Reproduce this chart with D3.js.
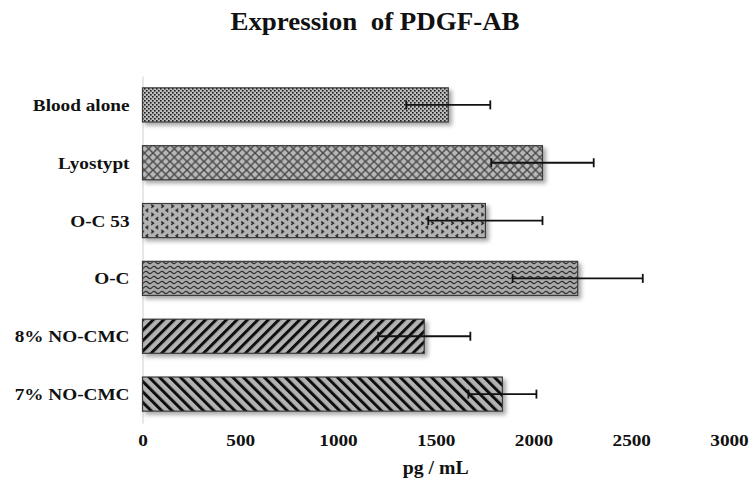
<!DOCTYPE html>
<html>
<head>
<meta charset="utf-8">
<script src="https://cdn.jsdelivr.net/npm/d3@7/dist/d3.min.js"></script>
<style>
  html, body { margin: 0; padding: 0; background: #fff; }
  svg { display: block; }
  text { font-family: "Liberation Serif", "Times New Roman", serif; font-weight: bold; fill: #111; }
</style>
</head>
<body>
<svg id="chart" width="751" height="489"></svg>
<script>
const categories = ["Blood alone", "Lyostypt", "O-C 53", "O-C", "8% NO-CMC", "7% NO-CMC"];
const values = [1564, 2046, 1754, 2226, 1441, 1841];
const errors = [215, 262, 292, 333, 236, 174];
const patternNames = ["dots", "lattice", "chevron", "wave", "fwdDiag", "backDiag"];
const xTicks = [0, 500, 1000, 1500, 2000, 2500, 3000];
const title = "Expression\u00a0\u00a0of PDGF-AB";
const xLabel = "pg / mL";

const W = 751, H = 489;
const margin = { left: 142.5, right: 22, top: 76, bottom: 66 };
const svg = d3.select("#chart");
const defs = svg.append("defs");

// shadow filter
const f = defs.append("filter").attr("id", "shadow").attr("x", "-5%").attr("y", "-20%").attr("width", "115%").attr("height", "160%");
f.append("feDropShadow").attr("dx", 3).attr("dy", 3).attr("stdDeviation", 2).attr("flood-color", "#000").attr("flood-opacity", 0.35);

const bg = "#b3b3b3";
function pat(id, w, h, transform) {
  const p = defs.append("pattern").attr("id", id).attr("patternUnits", "userSpaceOnUse").attr("width", w).attr("height", h);
  if (transform) p.attr("patternTransform", transform);
  p.append("rect").attr("width", w).attr("height", h).attr("fill", bg);
  return p;
}
// dots
{
  const p = pat("dots", 4, 4);
  p.select("rect").attr("fill", "#bdbdbd");
  p.append("rect").attr("x", 0).attr("y", 0).attr("width", 1.6).attr("height", 1.6).attr("fill", "#1a1a1a");
  p.append("rect").attr("x", 2).attr("y", 2).attr("width", 1.6).attr("height", 1.6).attr("fill", "#1a1a1a");
}
// lattice
{
  const p = pat("lattice", 8.5, 8.5);
  p.select("rect").attr("fill", "#b8b8b8");
  p.append("path").attr("d", "M0,0L8.5,8.5M8.5,0L0,8.5").attr("stroke", "#4a4a4a").attr("stroke-width", 1.5).attr("fill", "none");
}
// chevrons
{
  const p = pat("chevron", 10, 8.5);
  p.append("path").attr("d", "M1.2,0.6L3.4,2.1L1.2,3.6").attr("stroke", "#222").attr("stroke-width", 1.4).attr("fill", "none");
  p.append("path").attr("d", "M8.3,4.9L6.1,6.4L8.3,7.9").attr("stroke", "#222").attr("stroke-width", 1.4).attr("fill", "none");
}
// wave
{
  const p = pat("wave", 8, 5);
  p.select("rect").attr("fill", "#a9a9a9");
  p.append("path").attr("d", "M0,2.5Q2,0.3 4,2.5T8,2.5").attr("stroke", "#333").attr("stroke-width", 1.2).attr("fill", "none");
}
// forward diagonal "/"
{
  const p = pat("fwdDiag", 7.4, 7.4, "rotate(45)");
  p.append("rect").attr("x", 0).attr("width", 3.0).attr("height", 7.4).attr("fill", "#111");
}
// backward diagonal "\"
{
  const p = pat("backDiag", 7.4, 7.4, "rotate(-45)");
  p.append("rect").attr("x", 0).attr("width", 3.0).attr("height", 7.4).attr("fill", "#111");
}

const x = d3.scaleLinear().domain([0, 3000]).range([margin.left, W - margin.right]);
const y = d3.scaleBand().domain(categories).range([margin.top, H - margin.bottom]).paddingInner(0.41).paddingOuter(0.205);

const stretch = 1.1;
function sText(g, tx, ty, str, size, anchor) {
  return g.append("text")
    .attr("transform", `translate(${tx},${ty}) scale(${stretch},1)`)
    .attr("text-anchor", anchor)
    .attr("font-size", size)
    .text(str);
}

// value axis labels (no line)
const xAxis = d3.axisBottom(x).tickValues(xTicks).tickSize(0).tickPadding(0).tickFormat(d3.format("d"));
const gx = svg.append("g").attr("transform", `translate(0,${H - margin.bottom})`).call(xAxis);
gx.select(".domain").remove();
gx.selectAll(".tick text").each(function(d) {
  const t = d3.select(this);
  t.attr("y", null).attr("dy", null)
   .attr("transform", `translate(0,23) scale(${stretch},1)`)
   .attr("font-size", 17.5)
   .attr("font-family", "Liberation Serif, Times New Roman, serif")
   .attr("font-weight", "bold")
   .attr("fill", "#111");
});

// category axis
const yAxis = d3.axisLeft(y).tickSize(0).tickPadding(0);
const gy = svg.append("g").attr("transform", `translate(${margin.left},0)`).call(yAxis);
gy.select(".domain").attr("stroke", "#cfcfcf").attr("stroke-width", 1);
gy.selectAll(".tick text").each(function(d) {
  const t = d3.select(this);
  t.attr("x", null).attr("dy", null)
   .attr("transform", `translate(-13,6) scale(${stretch},1)`)
   .attr("font-size", 17.5)
   .attr("font-family", "Liberation Serif, Times New Roman, serif")
   .attr("font-weight", "bold")
   .attr("fill", "#111");
});

// bars
svg.append("g").selectAll("rect").data(categories).join("rect")
  .attr("x", x(0))
  .attr("y", d => y(d))
  .attr("width", (d, i) => x(values[i]) - x(0))
  .attr("height", y.bandwidth())
  .attr("fill", (d, i) => `url(#${patternNames[i]})`)
  .attr("stroke", "#3a3a3a")
  .attr("stroke-width", 1.2)
  .attr("filter", "url(#shadow)");

// error bars
const eg = svg.append("g").attr("stroke", "#111").attr("stroke-width", 1.8);
categories.forEach((c, i) => {
  const cy = y(c) + y.bandwidth() / 2;
  const x0 = x(values[i] - errors[i]), x1 = x(values[i] + errors[i]);
  eg.append("line").attr("x1", x0).attr("x2", x1).attr("y1", cy).attr("y2", cy);
  eg.append("line").attr("x1", x0).attr("x2", x0).attr("y1", cy - 4.5).attr("y2", cy + 4.5);
  eg.append("line").attr("x1", x1).attr("x2", x1).attr("y1", cy - 4.5).attr("y2", cy + 4.5);
});

// title & axis title
sText(svg, 375, 30, title, 24.5, "middle");
sText(svg, (x(0) + x(3000)) / 2, 474, xLabel, 18, "middle");
</script>
</body>
</html>
